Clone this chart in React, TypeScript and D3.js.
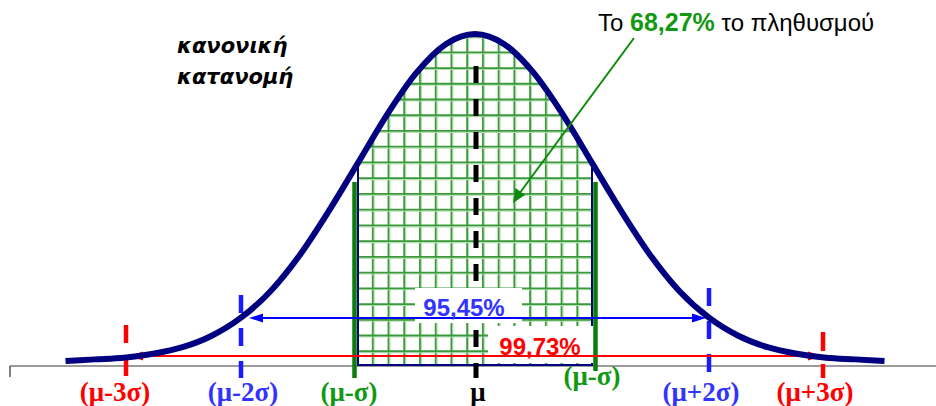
import React from "react";
import * as d3 from "d3";

const W = 936;
const H = 406;

// curve heights (relative to the peak), at σ-steps
const curveZ = [-3.5, -3.25, -3, -2.75, -2.5, -2.25, -2, -1.75, -1.5, -1.25, -1, -0.75, -0.5, -0.25, 0, 0.25, 0.5, 0.75, 1, 1.25, 1.5, 1.75, 2, 2.25, 2.5, 2.75, 3, 3.25, 3.5];
const curveH = [0.003, 0.008, 0.013, 0.025, 0.045, 0.08, 0.135, 0.215, 0.325, 0.46, 0.607, 0.755, 0.882, 0.969, 1.0, 0.969, 0.882, 0.755, 0.607, 0.46, 0.325, 0.215, 0.135, 0.08, 0.045, 0.025, 0.013, 0.008, 0.003];

// markers below the axis
const markerLabels = ["(μ-3σ)", "(μ-2σ)", "(μ-σ)", "μ", "(μ-σ)", "(μ+2σ)", "(μ+3σ)"];
const markerZ = [-3, -2, -1, 0, 1, 2, 3];
const markerColors = ["#ff0000", "#3333ff", "#119911", "#000000", "#119911", "#3333ff", "#ff0000"];

// intervals
const intervalLabels = ["95,45%", "99,73%"];
const intervalZ = [2, 3];
const intervalColors = ["#3333ff", "#ff0000"];

const annotationParts = ["Το ", "68,27%", " το πληθυσμού"];
const titleLines = ["κανονική", "κατανομή"];

const NAVY = "#000080";

function Arrow({ x1, x2, y, color }: { x1: number; x2: number; y: number; color: string }) {
  const hl = 14, hw = 4.5;
  return (
    <g>
      <line x1={x1 + hl - 2} x2={x2 - hl + 2} y1={y} y2={y} stroke={color} strokeWidth={2} />
      <polygon points={`${x1},${y} ${x1 + hl},${y - hw} ${x1 + hl},${y + hw}`} fill={color} />
      <polygon points={`${x2},${y} ${x2 - hl},${y - hw} ${x2 - hl},${y + hw}`} fill={color} />
    </g>
  );
}

export default function App() {
  const x = d3.scaleLinear().domain([-3, 3]).range([124, 826]);
  const y = d3.scaleLinear().domain([0, 1]).range([362, 34]);
  const baseY = 366;

  const pts: [number, number][] = curveZ.map((z, i) => [z, curveH[i]]);
  const line = d3
    .line<[number, number]>()
    .x((d) => x(d[0]))
    .y((d) => y(d[1]))
    .curve(d3.curveMonotoneX);

  const inner = pts.filter((d) => d[0] >= -1 && d[0] <= 1);
  const innerArea = d3
    .area<[number, number]>()
    .x((d) => x(d[0]))
    .y0(365)
    .y1((d) => y(d[1]))
    .curve(d3.curveMonotoneX);

  const gx0 = x(-1) - 1;
  const gx1 = x(1) + 1;
  const step = (gx1 - gx0) / 15;
  const vLines = d3.range(16).map((i) => gx0 + i * step);
  const hLines = d3.range(0, 23).map((i) => 146.7 + (i - 8) * step).filter((v) => v > 20 && v < 365);

  const labelY = [401, 401, 401, 401, 385, 401, 401];
  const labelDx = [-9, 2, -9, 3, 0, -8, -11];

  return (
    <svg
      width={W}
      height={H}
      style={{ position: "absolute", left: 0, top: 0, background: "#fff" }}
    >
      <defs>
        <clipPath id="innerClip">
          <path d={innerArea(inner) || ""} />
        </clipPath>
      </defs>

      {/* axis */}
      <line x1={10} x2={W} y1={baseY} y2={baseY} stroke="#7a7a7a" strokeWidth={1.5} />
      <line x1={10} x2={10} y1={baseY} y2={377} stroke="#000" strokeWidth={1} />

      {/* grid */}
      <g clipPath="url(#innerClip)">
        {vLines.map((v, i) => (
          <g key={"v" + i}>
            <line x1={v + 1.5} x2={v + 1.5} y1={0} y2={H} stroke="#b5dfb5" strokeWidth={1.1} />
            <line x1={v} x2={v} y1={0} y2={H} stroke="#3a9a3a" strokeWidth={1.8} />
          </g>
        ))}
        {hLines.map((v, i) => (
          <g key={"h" + i}>
            <line x1={0} x2={W} y1={v + 1.5} y2={v + 1.5} stroke="#b5dfb5" strokeWidth={1.1} />
            <line x1={0} x2={W} y1={v} y2={v} stroke="#3a9a3a" strokeWidth={1.8} />
          </g>
        ))}
      </g>
      <path
        d={`M${x(-1)},${y(curveH[curveZ.indexOf(-1)])} L${x(-1)},365 L${x(1)},365 L${x(1)},${y(curveH[curveZ.indexOf(1)])}`}
        fill="none"
        stroke={NAVY}
        strokeWidth={2}
      />

      <line x1={x(0) + 1} x2={x(0) + 1} y1={66} y2={378} stroke="#000" strokeWidth={5} strokeDasharray="17 16" />

      <rect x={415} y={288} width={107} height={35} fill="#fff" />
      <rect x={488} y={326} width={106} height={37} fill="#fff" />

      <line x1={x(-1) - 3.5} x2={x(-1) - 3.5} y1={182} y2={378} stroke="#0b7d0b" strokeWidth={4.5} />
      <line x1={x(1) + 3.5} x2={x(1) + 3.5} y1={182} y2={371} stroke="#0b7d0b" strokeWidth={4.5} />

      <line x1={x(-2)} x2={x(-2)} y1={295} y2={378} stroke="#1a1aff" strokeWidth={4.5} strokeDasharray="18 15" />
      <line x1={x(2)} x2={x(2)} y1={288} y2={372} stroke="#1a1aff" strokeWidth={4.5} strokeDasharray="18 15" />
      <line x1={x(-3) + 2} x2={x(-3) + 2} y1={325} y2={378} stroke="#ff0000" strokeWidth={4.5} strokeDasharray="18 15" />
      <line x1={x(3) - 3} x2={x(3) - 3} y1={332} y2={378} stroke="#ff0000" strokeWidth={4.5} strokeDasharray="19 13" />

      <Arrow x1={x(-intervalZ[0]) + 8} x2={x(intervalZ[0]) - 3} y={318} color="#0000ff" />
      <Arrow x1={x(-intervalZ[1]) + 5} x2={x(intervalZ[1]) - 4} y={356} color="#ff0000" />

      <path d={line(pts) || ""} fill="none" stroke={NAVY} strokeWidth={6} strokeLinejoin="round" />

      <text x={464} y={316} textAnchor="middle" fontFamily="Liberation Sans, Arial" fontWeight="bold" fontSize={24} fill={intervalColors[0]}>
        {intervalLabels[0]}
      </text>
      <text x={540} y={355} textAnchor="middle" fontFamily="Liberation Sans, Arial" fontWeight="bold" fontSize={24} fill={intervalColors[1]}>
        {intervalLabels[1]}
      </text>

      {markerLabels.map((l, i) => (
        <text
          key={i}
          x={x(markerZ[i]) + labelDx[i]}
          y={labelY[i]}
          textAnchor="middle"
          fontFamily="Liberation Serif, Times New Roman"
          fontWeight="bold"
          fontSize={27}
          fill={markerColors[i]}
        >
          {l}
        </text>
      ))}

      <text x={598} y={31} fontFamily="Liberation Sans, Arial" fontSize={24} fill="#000">
        {annotationParts[0]}
        <tspan fill="#119911" fontWeight="bold" fontSize={25}>{annotationParts[1]}</tspan>
        {annotationParts[2]}
      </text>
      <line x1={634} y1={38} x2={519} y2={194} stroke="#0b8a0b" strokeWidth={2} />
      <polygon points="513,203 515.5,188 525,195" fill="#0b8a0b" />

      {titleLines.map((t, i) => (
        <text
          key={i}
          x={177}
          y={53 + i * 31}
          fontFamily="DejaVu Sans"
          fontStyle="italic"
          fontWeight="bold"
          fontSize={21}
          fill="#000"
        >
          {t}
        </text>
      ))}
    </svg>
  );
}
